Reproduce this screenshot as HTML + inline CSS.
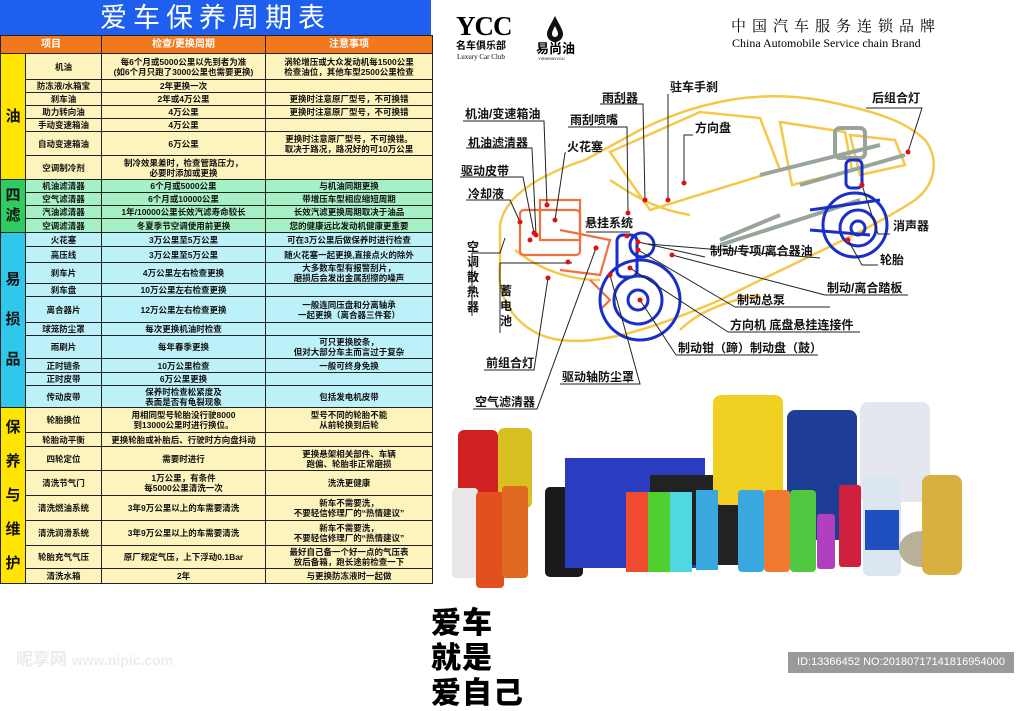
<!DOCTYPE html>
<html><head><meta charset="utf-8">
<style>
*{margin:0;padding:0;box-sizing:border-box}
body{width:1024px;height:682px;background:#fff;position:relative;overflow:hidden;font-family:"Liberation Sans","Noto Sans CJK SC",sans-serif}
#title{position:absolute;left:0;top:0;width:431px;height:36px;background:#1e5ff0;color:#fff;font-size:27px;letter-spacing:6px;text-align:center;line-height:36px;font-family:"Liberation Sans","Noto Sans CJK SC",sans-serif}
table{position:absolute;left:0;top:35px;width:432px;border-collapse:collapse;table-layout:fixed}
td{border:1.2px solid #222;font-size:8.5px;font-weight:bold;text-align:center;line-height:10px;color:#111;padding:0;overflow:hidden;white-space:nowrap}
tr.h td{background:#f2781c;color:#fff;font-size:10px;height:18px}
.y td{background:#fdf3bc}.g td{background:#a6f0c6}.c td{background:#bdf1fa}
td.cat{font-size:15px;line-height:20px;white-space:normal}
td.cat2{line-height:17px}
.y td.cat{background:#ffe500}.g td.cat{background:#2fcb63}.c td.cat{background:#2fc8ea}
.lb{position:absolute;font-size:12px;font-weight:bold;color:#111;white-space:nowrap;line-height:13px}
</style></head><body>
<div id="title">爱车保养周期表</div>
<table>
<colgroup><col style="width:25px"><col style="width:76px"><col style="width:164px"><col style="width:167px"></colgroup>
<tr class="h"><td colspan="2">项目</td><td>检查/更换周期</td><td>注意事项</td></tr>
<tr class="y" style="height:26px"><td class="cat" rowspan="7">油</td><td>机油</td><td>每6个月或5000公里以先到者为准<br>(如6个月只跑了3000公里也需要更换)</td><td>涡轮增压或大众发动机每1500公里<br>检查油位，其他车型2500公里检查</td></tr>
<tr class="y" style="height:13px"><td>防冻液/水箱宝</td><td>2年更换一次</td><td></td></tr>
<tr class="y" style="height:13px"><td>刹车油</td><td>2年或4万公里</td><td>更换时注意原厂型号，不可换错</td></tr>
<tr class="y" style="height:13px"><td>助力转向油</td><td>4万公里</td><td>更换时注意原厂型号，不可换错</td></tr>
<tr class="y" style="height:13px"><td>手动变速箱油</td><td>4万公里</td><td></td></tr>
<tr class="y" style="height:24px"><td>自动变速箱油</td><td>6万公里</td><td>更换时注意原厂型号，不可换错。<br>取决于路况，路况好的可10万公里</td></tr>
<tr class="y" style="height:24px"><td>空调制冷剂</td><td>制冷效果差时，检查管路压力，<br>必要时添加或更换</td><td></td></tr>
<tr class="g" style="height:13px"><td class="cat" rowspan="4">四<br>滤</td><td>机油滤清器</td><td>6个月或5000公里</td><td>与机油同期更换</td></tr>
<tr class="g" style="height:13px"><td>空气滤清器</td><td>6个月或10000公里</td><td>带增压车型相应缩短周期</td></tr>
<tr class="g" style="height:13px"><td>汽油滤清器</td><td>1年/10000公里长效汽滤寿命较长</td><td>长效汽滤更换周期取决于油品</td></tr>
<tr class="g" style="height:14px"><td>空调滤清器</td><td>冬夏季节空调使用前更换</td><td>您的健康远比发动机健康更重要</td></tr>
<tr class="c" style="height:14px"><td class="cat" rowspan="10">易<br><br>损<br><br>品</td><td>火花塞</td><td>3万公里至5万公里</td><td>可在3万公里后做保养时进行检查</td></tr>
<tr class="c" style="height:16px"><td>高压线</td><td>3万公里至5万公里</td><td>随火花塞一起更换,直接点火的除外</td></tr>
<tr class="c" style="height:21px"><td>刹车片</td><td>4万公里左右检查更换</td><td>大多数车型有报警刮片，<br>磨损后会发出金属刮擦的噪声</td></tr>
<tr class="c" style="height:13px"><td>刹车盘</td><td>10万公里左右检查更换</td><td></td></tr>
<tr class="c" style="height:26px"><td>离合器片</td><td>12万公里左右检查更换</td><td>一般连同压盘和分离轴承<br>一起更换（离合器三件套）</td></tr>
<tr class="c" style="height:13px"><td>球笼防尘罩</td><td>每次更换机油时检查</td><td></td></tr>
<tr class="c" style="height:23px"><td>雨刷片</td><td>每年春季更换</td><td>可只更换胶条，<br>但对大部分车主而言过于复杂</td></tr>
<tr class="c" style="height:14px"><td>正时链条</td><td>10万公里检查</td><td>一般可终身免换</td></tr>
<tr class="c" style="height:13px"><td>正时皮带</td><td>6万公里更换</td><td></td></tr>
<tr class="c" style="height:22px"><td>传动皮带</td><td>保养时检查松紧度及<br>表面是否有龟裂现象</td><td>包括发电机皮带</td></tr>
<tr class="y" style="height:25px"><td class="cat cat2" rowspan="8">保<br><br>养<br><br>与<br><br>维<br><br>护</td><td>轮胎换位</td><td>用相同型号轮胎没行驶8000<br>到13000公里时进行换位。</td><td>型号不同的轮胎不能<br>从前轮换到后轮</td></tr>
<tr class="y" style="height:14px"><td>轮胎动平衡</td><td>更换轮胎或补胎后、行驶时方向盘抖动</td><td></td></tr>
<tr class="y" style="height:24px"><td>四轮定位</td><td>需要时进行</td><td>更换悬架相关部件、车辆<br>跑偏、轮胎非正常磨损</td></tr>
<tr class="y" style="height:25px"><td>清洗节气门</td><td>1万公里，有条件<br>每5000公里清洗一次</td><td>洗洗更健康</td></tr>
<tr class="y" style="height:25px"><td>清洗燃油系统</td><td>3年9万公里以上的车需要清洗</td><td>新车不需要洗，<br>不要轻信修理厂的“热情建议”</td></tr>
<tr class="y" style="height:25px"><td>清洗润滑系统</td><td>3年9万公里以上的车需要清洗</td><td>新车不需要洗，<br>不要轻信修理厂的“热情建议”</td></tr>
<tr class="y" style="height:23px"><td>轮胎充气气压</td><td>原厂规定气压，上下浮动0.1Bar</td><td>最好自己备一个好一点的气压表<br>放后备箱，跑长途前检查一下</td></tr>
<tr class="y" style="height:15px"><td>清洗水箱</td><td>2年</td><td>与更换防冻液时一起做</td></tr>
</table>

<div style="position:absolute;left:456px;top:12px;font-family:'Liberation Serif',serif;font-weight:bold;font-size:27px;line-height:28px;letter-spacing:-1px">YCC</div>
<div style="position:absolute;left:456px;top:41px;font-size:10px;font-weight:bold;line-height:11px">名车俱乐部</div>
<div style="position:absolute;left:457px;top:53px;font-size:7px;font-family:'Liberation Serif',serif;line-height:8px">Luxury Car Club</div>
<svg style="position:absolute;left:544px;top:14px" width="22" height="28"><path d="M11 2 C6 12 3 16 3 20 a8 8 0 0 0 16 0 C19 16 16 12 11 2Z" fill="#111"/><path d="M11 12 C9 16 8 18 8 20 a3 3 0 0 0 6 0 C14 18 13 16 11 12Z" fill="#fff"/></svg>
<div style="position:absolute;left:536px;top:42px;font-size:13px;font-weight:bold;line-height:14px">易尚油</div>
<div style="position:absolute;left:538px;top:56px;font-size:4px;line-height:5px">YISHENGYOU</div>
<div style="position:absolute;left:731px;top:19px;font-size:15px;letter-spacing:6px;font-family:'Liberation Serif','Noto Serif CJK SC',serif;line-height:17px">中国汽车服务连锁品牌</div>
<div style="position:absolute;left:732px;top:37px;font-size:12px;font-family:'Liberation Serif',serif;line-height:13px">China Automobile Service chain Brand</div>

<svg style="position:absolute;left:0;top:0" width="1024" height="682">
<g fill="none" stroke="#f5c84a" stroke-width="2.5">
<path d="M500 225 C505 195 540 175 585 160 L640 130 C700 100 760 90 820 100 C870 110 905 120 925 140 C940 160 935 185 915 200 C870 230 800 260 720 300 C650 330 600 345 560 340 C520 335 495 300 500 265 Z"/>
<path d="M610 152 L700 112 L760 118 L780 170 L650 210 Z"/>
<path d="M780 122 L845 132 L852 170 L792 185 Z"/>
<path d="M850 135 L895 140 L905 165 L860 175 Z"/>
<path d="M610 180 C640 200 660 210 690 215"/>
<path d="M515 250 C540 270 570 280 600 280"/>
<path d="M680 330 C700 310 730 300 760 295"/>
</g>
<g stroke="#9aa59a" stroke-width="4" fill="none">
<path d="M720 245 L860 200"/><path d="M720 240 L780 215"/><path d="M760 175 L880 145"/><path d="M800 185 L905 155"/>
<rect x="835" y="128" width="30" height="30" rx="5"/>
</g>
<g fill="none" stroke="#f07040" stroke-width="2.2">
<rect x="520" y="210" width="60" height="45" rx="4"/><rect x="540" y="200" width="40" height="40"/><path d="M560 230 L610 240 L600 275 L560 270"/><path d="M590 280 L610 300 L600 310"/>
</g>
<g fill="none" stroke="#1a2fc8" stroke-width="3">
<circle cx="640" cy="300" r="40"/><circle cx="638" cy="300" r="24"/><circle cx="638" cy="300" r="10"/>
<rect x="617" y="235" width="20" height="42" rx="6"/><circle cx="642" cy="245" r="12"/>
<circle cx="855" cy="225" r="32"/><circle cx="858" cy="228" r="18"/><circle cx="858" cy="228" r="7"/>
<rect x="846" y="160" width="16" height="28" rx="5"/><path d="M810 210 L880 200 M810 230 L870 235"/>
</g>
<g stroke="#222" stroke-width="1" fill="none">
<path d="M463 121 L544 121 L547 205"/><path d="M466 148 L532 148 L536 235"/><path d="M460 177 L523 177 L534 233"/><path d="M466 200 L510 200 L520 222"/>
<path d="M600 104 L643 104 L645 200"/><path d="M568 127 L627 127 L628 213"/><path d="M566 153 L565 153 L555 220"/>
<path d="M668 94 L668 200"/><path d="M693 135 L684 135 L684 183"/><path d="M866 108 L922 108 L908 152"/>
<path d="M586 232 L630 232"/><path d="M890 234 L878 234 L862 185"/>
<path d="M705 257 L638 242 M648 244 L820 258"/><path d="M878 265 L862 265 L848 240"/>
<path d="M825 295 L908 295 M825 295 L672 255"/><path d="M735 307 L830 307 M735 307 L638 250"/>
<path d="M728 332 L860 332 M728 332 L630 268"/><path d="M676 355 L818 355 M676 355 L640 300"/>
<path d="M484 370 L534 370 L548 278"/><path d="M560 384 L640 384 L610 275"/><path d="M473 409 L537 409 L596 248"/>
<path d="M472 253 L500 253 L505 238 M472 253 L472 316"/><path d="M500 263 L572 263 L566 262 M500 263 L500 333"/>
</g>
<g fill="#e01010">
<circle cx="547" cy="205" r="2.5"/><circle cx="536" cy="235" r="2.5"/><circle cx="534" cy="233" r="2.5"/><circle cx="520" cy="222" r="2.5"/><circle cx="645" cy="200" r="2.5"/><circle cx="628" cy="213" r="2.5"/><circle cx="555" cy="220" r="2.5"/><circle cx="668" cy="200" r="2.5"/><circle cx="684" cy="183" r="2.5"/><circle cx="908" cy="152" r="2.5"/><circle cx="627" cy="236" r="2.5"/><circle cx="862" cy="185" r="2.5"/><circle cx="638" cy="242" r="2.5"/><circle cx="848" cy="240" r="2.5"/><circle cx="672" cy="255" r="2.5"/><circle cx="638" cy="250" r="2.5"/><circle cx="630" cy="268" r="2.5"/><circle cx="640" cy="300" r="2.5"/><circle cx="548" cy="278" r="2.5"/><circle cx="610" cy="275" r="2.5"/><circle cx="596" cy="248" r="2.5"/><circle cx="530" cy="240" r="2.5"/><circle cx="568" cy="262" r="2.5"/>
</g>
<g>
<rect x="458" y="430" width="40" height="80" rx="6" fill="#d02020"/>
<rect x="498" y="428" width="34" height="80" rx="6" fill="#d8c020"/>
<rect x="452" y="488" width="26" height="90" rx="4" fill="#e8e8e8"/>
<rect x="476" y="492" width="28" height="96" rx="4" fill="#e25020"/>
<rect x="502" y="486" width="26" height="92" rx="4" fill="#e06a20"/>
<rect x="545" y="487" width="38" height="90" rx="5" fill="#1a1a1a"/>
<rect x="565" y="458" width="140" height="110" fill="#2a3cc0"/>
<rect x="650" y="475" width="95" height="90" fill="#222"/>
<rect x="713" y="395" width="70" height="110" rx="8" fill="#f0d020"/>
<rect x="787" y="410" width="70" height="130" rx="8" fill="#1e3d96"/>
<rect x="860" y="402" width="70" height="100" rx="8" fill="#e4e8ee"/>
<rect x="626" y="492" width="22" height="80" fill="#f04a30"/>
<rect x="648" y="492" width="22" height="80" fill="#50d030"/>
<rect x="670" y="492" width="22" height="80" fill="#50d8e0"/>
<rect x="696" y="490" width="22" height="80" fill="#3aa8e0"/>
<rect x="738" y="490" width="26" height="82" rx="4" fill="#3aa8e0"/>
<rect x="764" y="490" width="26" height="82" rx="4" fill="#f07a30"/>
<rect x="790" y="490" width="26" height="82" rx="4" fill="#50c840"/>
<rect x="817" y="514" width="18" height="55" rx="3" fill="#b040c0"/>
<rect x="839" y="485" width="22" height="82" rx="3" fill="#d02040"/>
<rect x="863" y="476" width="38" height="100" rx="6" fill="#dce6f0"/>
<rect x="865" y="510" width="34" height="40" fill="#2050c0"/>
<ellipse cx="921" cy="549" rx="22" ry="18" fill="#b8b098"/>
<rect x="922" y="475" width="40" height="100" rx="8" fill="#d8b040"/>
</g>
</svg>
<div class="lb" style="left:465px;top:108px">机油/变速箱油</div>
<div class="lb" style="left:468px;top:137px">机油滤清器</div>
<div class="lb" style="left:461px;top:165px">驱动皮带</div>
<div class="lb" style="left:468px;top:188px">冷却液</div>
<div class="lb" style="left:602px;top:92px">雨刮器</div>
<div class="lb" style="left:570px;top:114px">雨刮喷嘴</div>
<div class="lb" style="left:567px;top:141px">火花塞</div>
<div class="lb" style="left:670px;top:81px">驻车手刹</div>
<div class="lb" style="left:695px;top:122px">方向盘</div>
<div class="lb" style="left:872px;top:92px">后组合灯</div>
<div class="lb" style="left:585px;top:217px">悬挂系统</div>
<div class="lb" style="left:893px;top:220px">消声器</div>
<div class="lb" style="left:710px;top:245px">制动/专项/离合器油</div>
<div class="lb" style="left:880px;top:254px">轮胎</div>
<div class="lb" style="left:827px;top:282px">制动/离合踏板</div>
<div class="lb" style="left:737px;top:294px">制动总泵</div>
<div class="lb" style="left:730px;top:319px">方向机 底盘悬挂连接件</div>
<div class="lb" style="left:678px;top:342px">制动钳（蹄）制动盘（鼓）</div>
<div class="lb" style="left:486px;top:357px">前组合灯</div>
<div class="lb" style="left:562px;top:371px">驱动轴防尘罩</div>
<div class="lb" style="left:475px;top:396px">空气滤清器</div>
<div class="lb" style="left:467px;top:240px;line-height:15px">空<br>调<br>散<br>热<br>器</div>
<div class="lb" style="left:500px;top:284px;line-height:15px">蓄<br>电<br>池</div>

<div style="position:absolute;left:431px;top:606px;font-size:30px;font-weight:900;line-height:35px;letter-spacing:1px;color:#000">爱车<br>就是<br>爱自己</div>
<div style="position:absolute;left:16px;top:650px;font-size:17px;color:#ececec;font-weight:bold;line-height:20px">昵享网 <span style="font-size:14px">www.nipic.com</span></div>
<div style="position:absolute;left:788px;top:652px;width:226px;height:21px;background:#9a9a9a;color:#fff;font-size:11px;line-height:21px;text-align:center">ID:13366452 NO:20180717141816954000</div>
</body></html>
